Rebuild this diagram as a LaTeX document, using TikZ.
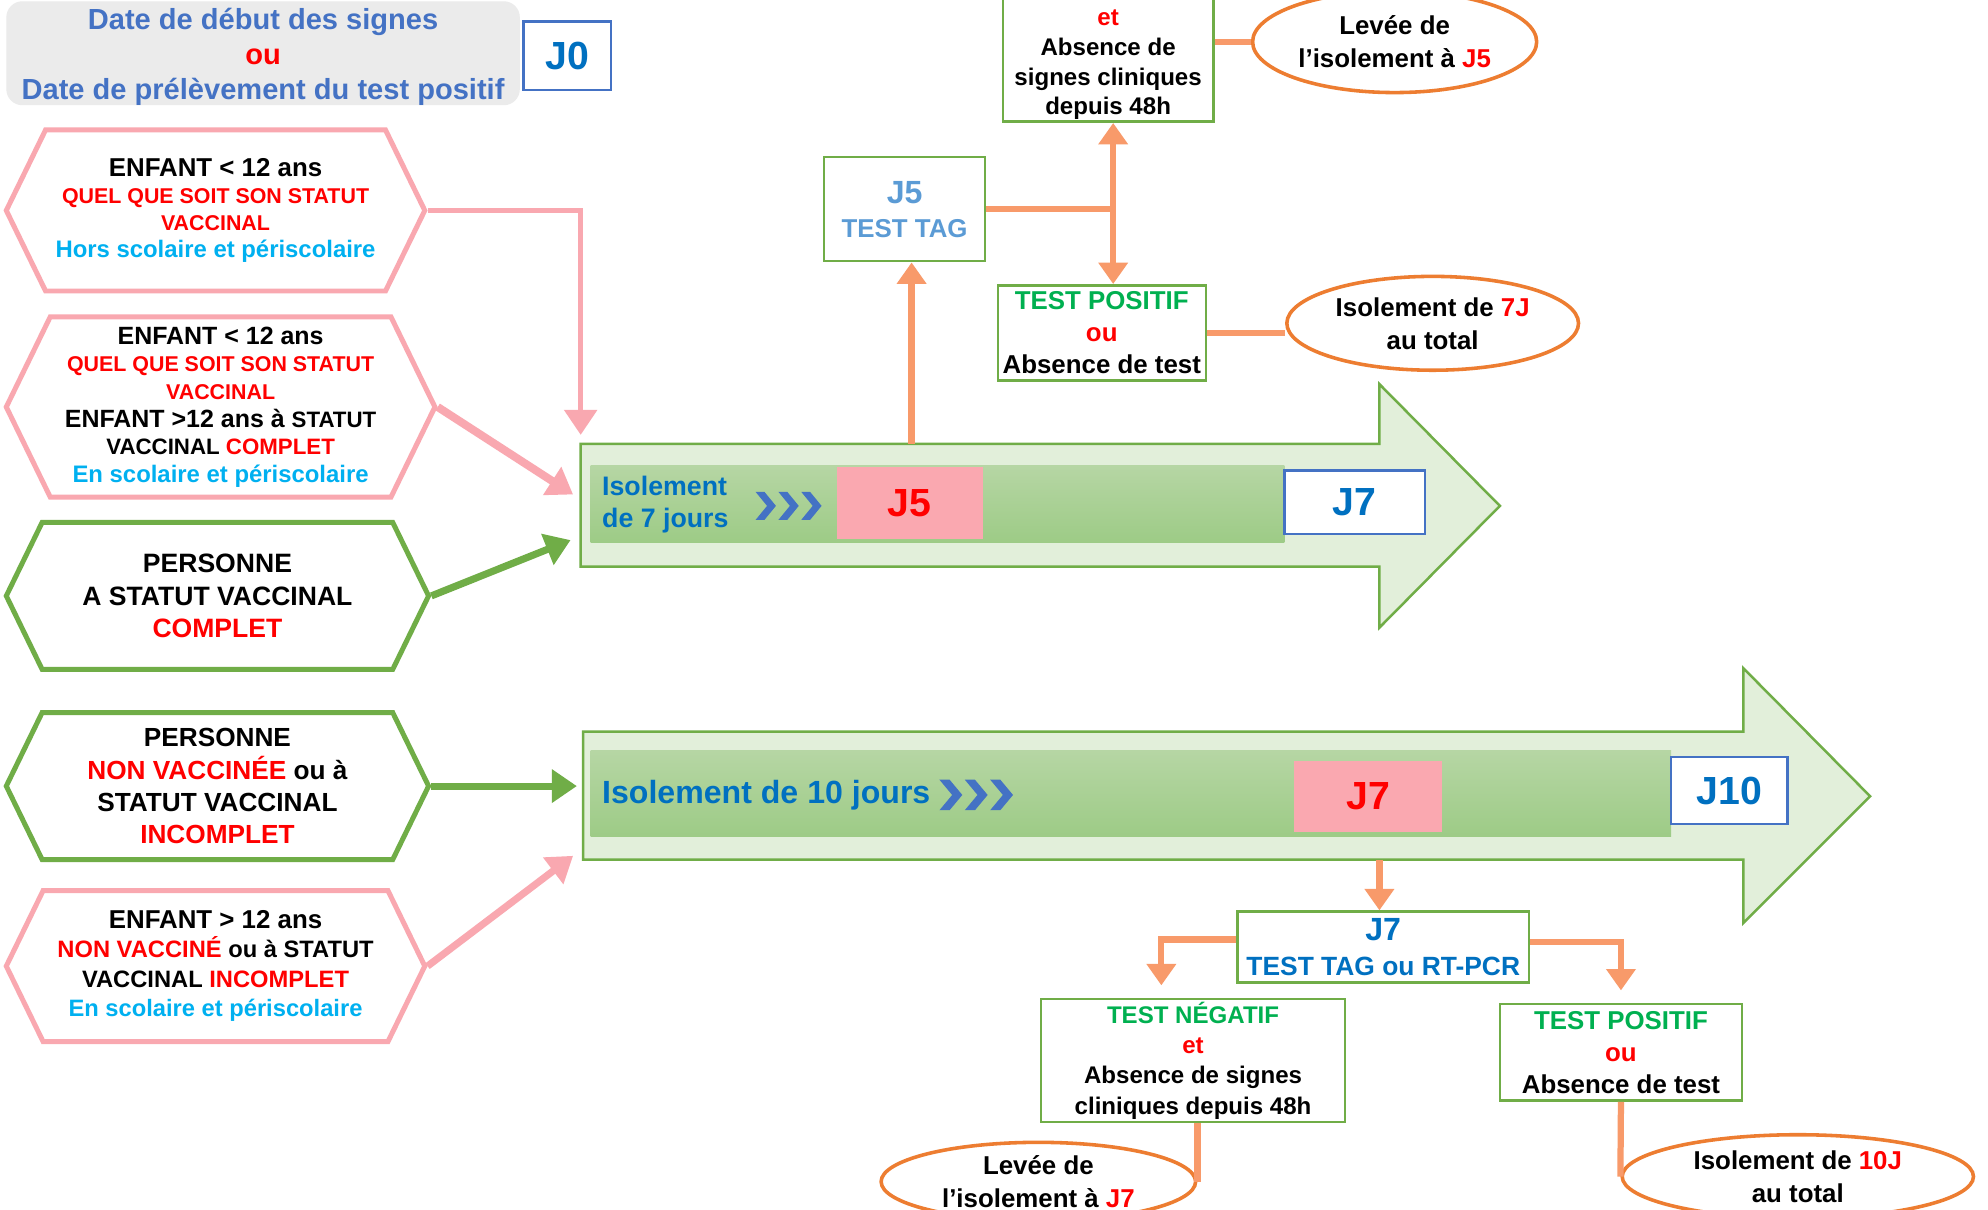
\documentclass[tikz,border=0pt]{standalone}
\usepackage{fontspec}
\setmainfont{Liberation Sans}
\usepackage{tikz}
\usetikzlibrary{shapes,arrows.meta,positioning,calc}
\usepackage{xcolor}
\definecolor{pinkline}{RGB}{249,168,176}
\definecolor{greenline}{RGB}{112,173,71}
\definecolor{arrowfill}{RGB}{226,239,218}
\definecolor{bandtop}{RGB}{182,214,164}
\definecolor{bandbot}{RGB}{157,203,134}
\definecolor{orangeline}{RGB}{248,154,106}
\definecolor{ovalline}{RGB}{237,125,49}
\definecolor{dayblue}{RGB}{0,112,192}
\definecolor{headblue}{RGB}{68,114,196}
\definecolor{tagblue}{RGB}{91,155,213}
\definecolor{schoolcyan}{RGB}{0,176,240}
\definecolor{testgreen}{RGB}{0,176,80}
\definecolor{datagray}{RGB}{235,235,235}
\definecolor{pinkday}{RGB}{250,168,176}
\newcommand{\redtxt}[1]{\textcolor{red}{#1}}
\newcommand{\setfs}[2]{\fontsize{#1}{#2}\selectfont}

\begin{document}
\begin{tikzpicture}[
    x=0.025cm, y=-0.025cm,
    hexpink/.style={signal, signal to=east and west, signal pointer angle=128, draw=pinkline, line width=2.8pt, fill=white, align=center, inner sep=0pt},
    hexgreen/.style={hexpink, draw=greenline},
    greenbox/.style={rectangle, draw=greenline, line width=1.4pt, fill=white, align=center, inner sep=1pt},
    daybox/.style={rectangle, draw=headblue, line width=1.4pt, fill=white, text=dayblue, font=\bfseries\setfs{22}{26}},
    pinkbox/.style={rectangle, fill=pinkday, text=red, font=\bfseries\setfs{22}{26}},
    oval/.style={ellipse, draw=ovalline, line width=2pt, fill=white, align=center, inner sep=0pt, font=\bfseries\setfs{14.5}{18.5}},
    band/.style={rectangle, top color=bandtop, bottom color=bandbot, inner sep=0pt},
    bigarrow/.style={draw=greenline, line width=1.4pt, fill=arrowfill},
    chevron/.style={fill=headblue},
    pinkarrow/.style={draw=pinkline, line width=3pt, -{Triangle[width=18pt,length=14pt]}},
    greenarrow/.style={draw=greenline, line width=4pt, -{Triangle[width=18pt,length=14pt]}},
    orangelink/.style={draw=orangeline, line width=3.5pt},
    orangearrow/.style={orangelink, -{Triangle[width=16pt,length=12pt]}}
]
    \useasboundingbox (0,0) rectangle (1568,954);
    \fill[white] (0,0) rectangle (1568,954);

    % Day zero
    \fill[datagray, rounded corners=9pt] (5,1) rectangle (410,83);
    \node[align=center, text=headblue, font=\bfseries\setfs{16.3}{19.5}] (start) at (207.5,45) {Date de début des signes\\\redtxt{ou}\\Date de prélèvement du test positif};
    \node[daybox, minimum width=1.725cm, minimum height=1.35cm] (j0) at (447.5,44) {J0};

    % Who
    \node[hexpink, minimum width=8.25cm, minimum height=3.175cm, font=\bfseries\setfs{14.5}{15}] (child1) at (170,166) {ENFANT < 12 ans\\{\setfs{12}{15}\redtxt{QUEL QUE SOIT SON STATUT}}\\{\setfs{12}{15}\redtxt{VACCINAL}}\\{\setfs{13.4}{15}\textcolor{schoolcyan}{Hors scolaire et périscolaire}}};
    \node[hexpink, minimum width=8.45cm, minimum height=3.55cm, font=\bfseries\setfs{14}{15.5}] (child2) at (174,321) {ENFANT < 12 ans\\{\setfs{12}{15.5}\redtxt{QUEL QUE SOIT SON STATUT}}\\{\setfs{12}{15.5}\redtxt{VACCINAL}}\\ENFANT >12 ans à {\setfs{12.5}{15.5}STATUT}\\{\setfs{12.5}{15.5}VACCINAL \redtxt{COMPLET}}\\{\setfs{13.4}{15.5}\textcolor{schoolcyan}{En scolaire et périscolaire}}};
    \node[hexgreen, minimum width=8.325cm, minimum height=2.9cm, font=\bfseries\setfs{14.9}{18}] (full) at (171.5,470) {PERSONNE\\A STATUT VACCINAL\\\redtxt{COMPLET}};
    \node[hexgreen, minimum width=8.325cm, minimum height=2.9cm, font=\bfseries\setfs{14.7}{18}] (nonvax) at (171.5,620) {PERSONNE\\\redtxt{NON VACCINÉE} ou à\\STATUT VACCINAL\\\redtxt{INCOMPLET}};
    \node[hexpink, minimum width=8.25cm, minimum height=2.975cm, font=\bfseries\setfs{13.3}{16.5}] (child3) at (170,762) {{\setfs{14.5}{16.5}ENFANT > 12 ans}\\\redtxt{NON VACCINÉ} ou à STATUT\\VACCINAL \redtxt{INCOMPLET}\\\textcolor{schoolcyan}{En scolaire et périscolaire}};

    % 7 days
    \draw[bigarrow] (458,350) -- (1088,350) -- (1088,303) -- (1183,399) -- (1088,495) -- (1088,447) -- (458,447) -- cycle;
    \node[band, minimum width=13.675cm, minimum height=1.525cm] (band7) at (739.5,397.5) {};
    \node[anchor=west, align=left, text=dayblue, font=\bfseries\setfs{15}{17.5}] (iso7) at (470,398) {Isolement\\de 7 jours};
    \coordinate (chev7) at (596,399);
    \foreach \k in {0,1,2}
        \fill[chevron] ($(chev7)+(\k*18,0)$) ++(0,-11) -- ++(7,0) -- ++(9,11) -- ++(-9,11) -- ++(-7,0) -- ++(9,-11) -- cycle;
    \node[pinkbox, minimum width=2.875cm, minimum height=1.425cm] (d5) at (717.5,396.5) {J5};
    \node[daybox, minimum width=2.775cm, minimum height=1.25cm] (d7) at (1068.5,396) {J7};

    % 10 days
    \draw[bigarrow] (460,577) -- (1375,577) -- (1375,527) -- (1475,628) -- (1375,728) -- (1375,678) -- (460,678) -- cycle;
    \node[band, minimum width=21.3cm, minimum height=1.7cm] (band10) at (892,626) {};
    \node[anchor=west, text=dayblue, font=\bfseries\setfs{18}{20}] (iso10) at (470,627) {Isolement de 10 jours};
    \coordinate (chev10) at (741,627);
    \foreach \k in {0,1,2}
        \fill[chevron] ($(chev10)+(\k*20,0)$) ++(0,-12) -- ++(8,0) -- ++(10,12) -- ++(-10,12) -- ++(-8,0) -- ++(10,-12) -- cycle;
    \node[pinkbox, minimum width=2.9cm, minimum height=1.4cm] (d7b) at (1079,628) {J7};
    \node[daybox, minimum width=2.3cm, minimum height=1.325cm] (d10) at (1364,623.5) {J10};

    % Test at J5
    \node[greenbox, minimum width=3.175cm, minimum height=2.05cm, text=tagblue, font=\bfseries\setfs{14.5}{19}] (tag5) at (713.5,165) {{\setfs{18}{19}J5}\\TEST TAG};
    \node[greenbox, minimum width=4.15cm, anchor=south, font=\bfseries\setfs{13.5}{16.8}] (neg5) at (874,97) {\mbox{}\\\redtxt{et}\\Absence de\\signes cliniques\\depuis 48h};
    \node[oval, minimum width=5.6cm, minimum height=2cm] (lift5) at (1100,33) {Levée de\\l’isolement à \redtxt{J5}};
    \node[greenbox, minimum width=4.1cm, minimum height=1.875cm, font=\bfseries\setfs{14.5}{18}] (pos5) at (869,262.5) {\textcolor{testgreen}{TEST POSITIF}\\\redtxt{ou}\\Absence de test};
    \node[oval, minimum width=5.75cm, minimum height=1.85cm] (tot7) at (1130,255) {Isolement de \redtxt{7J}\\au total};

    % Test at J7
    \node[greenbox, minimum width=5.75cm, minimum height=1.4cm, text=dayblue, font=\bfseries\setfs{14.8}{20}] (tag7) at (1091,747) {{\setfs{18}{20}J7}\\TEST TAG ou RT-PCR};
    \node[greenbox, minimum width=6cm, minimum height=2.425cm, font=\bfseries\setfs{13.5}{17}] (neg7) at (941,836.5) {\textcolor{testgreen}{TEST NÉGATIF}\\\redtxt{et}\\Absence de signes\\cliniques depuis 48h};
    \node[greenbox, minimum width=4.775cm, minimum height=1.9cm, font=\bfseries\setfs{14.5}{18}] (pos7) at (1278.5,830) {\textcolor{testgreen}{TEST POSITIF}\\\redtxt{ou}\\Absence de test};
    \node[oval, minimum width=6.2cm, minimum height=1.55cm] (lift7) at (819,932) {Levée de\\l’isolement à \redtxt{J7}};
    \node[oval, minimum width=6.925cm, minimum height=1.65cm] (tot10) at (1418,928) {Isolement de \redtxt{10J}\\au total};

    % Who goes where
    \coordinate (in7a) at (458,343);
    \coordinate (in7b) at (452,390);
    \coordinate (in7c) at (450,426);
    \coordinate (in10a) at (455,620);
    \coordinate (in10b) at (452,675);
    \draw[pinkarrow] (child1.east) -| (in7a);
    \draw[pinkarrow, line width=4.5pt] (child2.east) -- (in7b);
    \draw[greenarrow] (full.east) -- (in7c);
    \draw[greenarrow] (nonvax.east) -- (in10a);
    \draw[pinkarrow, line width=4pt] (child3.east) -- (in10b);

    % J5 links
    \coordinate (out7) at (719,350);
    \draw[orangearrow] (out7) -- (out7 |- tag5.south);
    \draw[orangelink] (tag5.east) -- ++(100,0) coordinate (fork5);
    \draw[orangearrow] (fork5) -- (fork5 |- neg5.south);
    \draw[orangearrow] (fork5) -- (fork5 |- pos5.north);
    \draw[orangelink] (neg5.east |- lift5.west) -- (lift5.west);
    \draw[orangelink] (pos5.east) -- (pos5.east -| tot7.west);

    % J7 links
    \coordinate (out10) at (1088,678);
    \draw[orangearrow] (out10) -- (out10 |- tag7.north);
    \draw[orangearrow, shorten >=7pt] ([yshift=0.15cm]tag7.west) -| ([xshift=-0.625cm]neg7.north);
    \draw[orangearrow, shorten >=7pt] ([yshift=0.1cm]tag7.east) -| (pos7.north);
    \draw[orangelink] (lift7.east |- neg7.south) -- (lift7.east);
    \draw[orangelink] (pos7.south) -- (tot10.west);
\end{tikzpicture}
\end{document}
